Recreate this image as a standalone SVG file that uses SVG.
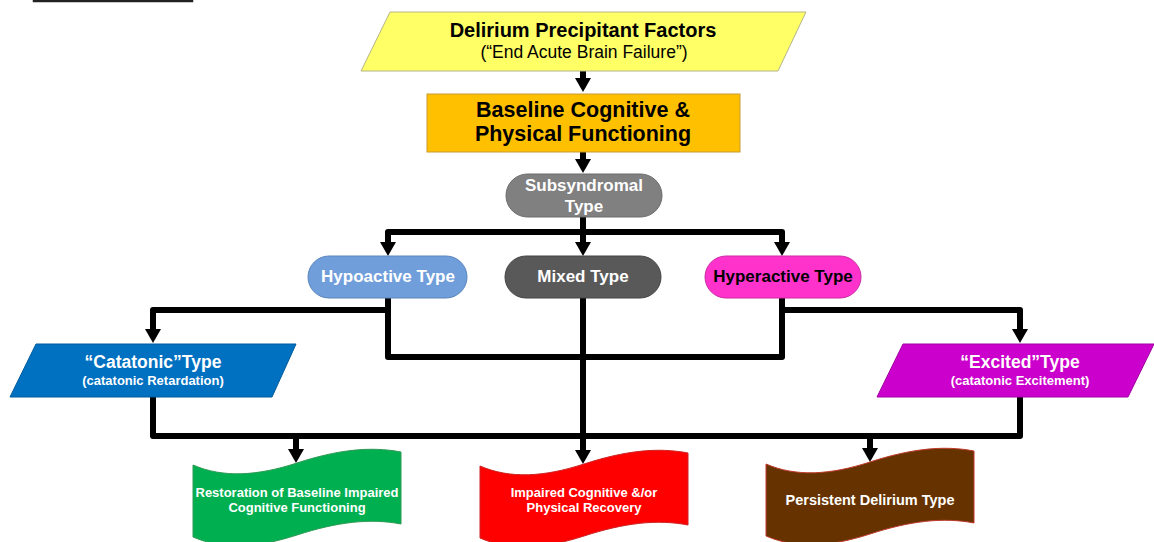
<svg xmlns="http://www.w3.org/2000/svg" width="1154" height="542" viewBox="0 0 1154 542">
<style>
text{font-family:"Liberation Sans",Arial,sans-serif;font-weight:bold;text-anchor:middle}
.conn{fill:none;stroke:#000;stroke-width:6;stroke-linejoin:round}
.w{fill:#fff}
.k{fill:#000}
</style>
<defs>
<marker id="ah" markerUnits="userSpaceOnUse" markerWidth="16" markerHeight="16" refX="3" refY="8" orient="auto-start-reverse" viewBox="0 0 14 16">
<path d="M0,0 L14,8 L0,16 Z" fill="#000"/>
</marker>
<path id="wave" d="M0,14 C30,27 64,25 104,12 C144,-1 177,-5 208,1 V73 C177,67 144,71 104,84 C64,97 30,99 0,86 Z"/>
</defs>
<rect width="1154" height="542" fill="#fff"/>
<rect x="34" y="-20" width="158" height="21" fill="#fff" stroke="#222" stroke-width="2.5"/>

<g id="connectors">
<path class="conn" d="M583,71 V81" marker-end="url(#ah)"/>
<path class="conn" d="M583,152 V162" marker-end="url(#ah)"/>
<path class="conn" d="M583,217 V245" marker-end="url(#ah)"/>
<path class="conn" d="M388,245 V232 H782 V245" marker-start="url(#ah)" marker-end="url(#ah)"/>
<path class="conn" d="M388,298 V310 H153 V332" marker-end="url(#ah)"/>
<path class="conn" d="M388,310 V357 H782 V298"/>
<path class="conn" d="M782,298 V310 H1020 V332" marker-end="url(#ah)"/>
<path class="conn" d="M153,397 V436 H1020 V397"/>
<path class="conn" d="M583,298 V453" marker-end="url(#ah)"/>
<path class="conn" d="M296,436 V452" marker-end="url(#ah)"/>
<path class="conn" d="M870,436 V451" marker-end="url(#ah)"/>
</g>

<g id="precipitants">
<polygon points="390,12 806,12 778,71 361,71" fill="#ffff66" stroke="#b5b58a" stroke-width="1"/>
<text x="583" y="37" font-size="20" class="k">Delirium Precipitant Factors</text>
<text x="584" y="58" font-size="17.5" style="font-weight:normal" class="k">(“End Acute Brain Failure”)</text>
</g>

<g id="baseline">
<rect x="427" y="94" width="313" height="58" fill="#ffc000" stroke="#c99a2e" stroke-width="1"/>
<text x="583" y="117" font-size="21.5" class="k">Baseline Cognitive &amp;</text>
<text x="583" y="141" font-size="21.5" class="k">Physical Functioning</text>
</g>

<g id="subsyndromal">
<rect x="506" y="174" width="156" height="43" rx="21.5" fill="#808080" stroke="#6a6a6a" stroke-width="1"/>
<text x="584" y="191" font-size="17" class="w">Subsyndromal</text>
<text x="584" y="212" font-size="17" class="w">Type</text>
</g>

<g id="hypoactive">
<rect x="308" y="256" width="159" height="42" rx="21" fill="#6f9edb" stroke="#5a84bb" stroke-width="1"/>
<text x="388" y="282" font-size="17" class="w">Hypoactive Type</text>
</g>

<g id="mixed">
<rect x="505" y="256" width="156" height="42" rx="21" fill="#595959" stroke="#444" stroke-width="1"/>
<text x="583" y="282" font-size="17" class="w">Mixed Type</text>
</g>

<g id="hyperactive">
<rect x="705" y="256" width="156" height="42" rx="21" fill="#ff33cc" stroke="#cc2aa4" stroke-width="1"/>
<text x="783" y="282" font-size="17" class="k">Hyperactive Type</text>
</g>

<g id="catatonic">
<polygon points="36,344 296,344 272,397 10,397" fill="#0070c0" stroke="#005a9a" stroke-width="1"/>
<text x="153" y="368" font-size="17.5" class="w">“Catatonic”Type</text>
<text x="153" y="385" font-size="13" class="w">(catatonic Retardation)</text>
</g>

<g id="excited">
<polygon points="903,344 1154,344 1128,397 877,397" fill="#cc00cc" stroke="#a000a0" stroke-width="1"/>
<text x="1020" y="368" font-size="17.5" class="w">“Excited”Type</text>
<text x="1020" y="385" font-size="13" class="w">(catatonic Excitement)</text>
</g>

<g id="restoration">
<use href="#wave" transform="translate(193,451)" fill="#00b050" stroke="#2e9a55" stroke-width="1"/>
<text x="297" y="497" font-size="13" class="w">Restoration of Baseline Impaired</text>
<text x="297" y="512" font-size="13" class="w">Cognitive Functioning</text>
</g>

<g id="impaired">
<use href="#wave" transform="translate(480,452)" fill="#ff0000" stroke="#cc2222" stroke-width="1"/>
<text x="584" y="497" font-size="13" class="w">Impaired Cognitive &amp;/or</text>
<text x="584" y="512" font-size="13" class="w">Physical Recovery</text>
</g>

<g id="persistent">
<use href="#wave" transform="translate(766,450)" fill="#663300" stroke="#c0392b" stroke-width="1"/>
<text x="870" y="505" font-size="14.5" class="w">Persistent Delirium Type</text>
</g>
</svg>
